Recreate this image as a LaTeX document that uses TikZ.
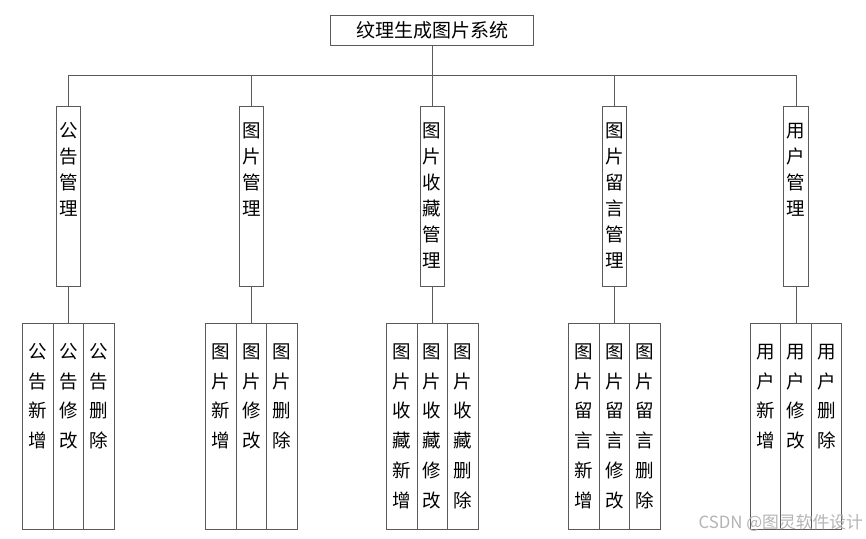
\documentclass[tikz,border=0pt]{standalone}
\usepackage{fontspec}
\newfontfamily\cjk{Noto Sans CJK SC}
\definecolor{linegray}{HTML}{5A5A5A}
\definecolor{wmgray}{HTML}{B4B4B4}
\tikzset{
  conn/.style={draw=linegray, line width=0.8pt},
  titlebox/.style={draw=linegray, line width=0.8pt, minimum width=203pt, minimum height=30pt, inner sep=0pt,
    font=\cjk\fontsize{19}{22}\selectfont},
  midbox/.style={draw=linegray, line width=0.8pt, minimum width=24.4pt, minimum height=180pt, inner sep=0pt},
  midtxt/.style={anchor=north, inner sep=0pt, align=center, font=\cjk\fontsize{18.5}{26.1}\selectfont},
  leafbox/.style={draw=linegray, line width=0.8pt, minimum width=30.5pt, minimum height=205.7pt, inner sep=0pt},
  leaftxt/.style={anchor=north, inner sep=0pt, align=center, font=\cjk\fontsize{18.5}{29.7}\selectfont},
}
\newcommand{\midnode}[3]{%
  \node[midbox] (#1) at (#2,196.7) {};
  \node[midtxt] (#1t) at ([yshift=-12pt]#1.north) {#3};
}
\newcommand{\leafnode}[3]{%
  \node[leafbox] (#1) at (#2,426.2) {};
  \node[leaftxt] (#1t) at ([yshift=-16.9pt]#1.north) {#3};
}
\newcommand{\fs}{\rule{0pt}{18.5pt}}
\begin{document}
\begin{tikzpicture}[x=1pt,y=-1pt]
\useasboundingbox (0,0) rectangle (866,538);
\node[titlebox] (sys) at (432.2,30.7) {纹理生成图片系统};
\coordinate (bar) at (432.2,75.7);

\midnode{m1}{68.5}{\fs 公\\告\\管\\理}
\midnode{m2}{251.5}{\fs 图\\片\\管\\理}
\midnode{m3}{432.2}{\fs 图\\片\\收\\藏\\管\\理}
\midnode{m4}{614.5}{\fs 图\\片\\留\\言\\管\\理}
\midnode{m5}{796}{\fs 用\\户\\管\\理}

\leafnode{a1}{38}{\fs 公\\告\\新\\增}
\leafnode{a2}{68.5}{\fs 公\\告\\修\\改}
\leafnode{a3}{99}{\fs 公\\告\\删\\除}

\leafnode{b1}{221}{\fs 图\\片\\新\\增}
\leafnode{b2}{251.5}{\fs 图\\片\\修\\改}
\leafnode{b3}{282}{\fs 图\\片\\删\\除}

\leafnode{c1}{401.7}{\fs 图\\片\\收\\藏\\新\\增}
\leafnode{c2}{432.2}{\fs 图\\片\\收\\藏\\修\\改}
\leafnode{c3}{462.7}{\fs 图\\片\\收\\藏\\删\\除}

\leafnode{d1}{584}{\fs 图\\片\\留\\言\\新\\增}
\leafnode{d2}{614.5}{\fs 图\\片\\留\\言\\修\\改}
\leafnode{d3}{645}{\fs 图\\片\\留\\言\\删\\除}

\leafnode{e1}{765.5}{\fs 用\\户\\新\\增}
\leafnode{e2}{796}{\fs 用\\户\\修\\改}
\leafnode{e3}{826.5}{\fs 用\\户\\删\\除}

\draw[conn] (sys.south) -- (bar);
\draw[conn] (m1.north) |- (bar) -| (m5.north);
\draw[conn] (m2.north) -- (m2.north |- bar);
\draw[conn] (m3.north) -- (m3.north |- bar);
\draw[conn] (m4.north) -- (m4.north |- bar);

\draw[conn] (m1.south) -- (a2.north);
\draw[conn] (m2.south) -- (b2.north);
\draw[conn] (m3.south) -- (c2.north);
\draw[conn] (m4.south) -- (d2.north);
\draw[conn] (m5.south) -- (e2.north);

\node[text=wmgray, font=\cjk\fontsize{16.8}{18}\selectfont, inner sep=0pt] (wm) at (780.8,522.7) {CSDN @图灵软件设计};
\end{tikzpicture}
\end{document}
